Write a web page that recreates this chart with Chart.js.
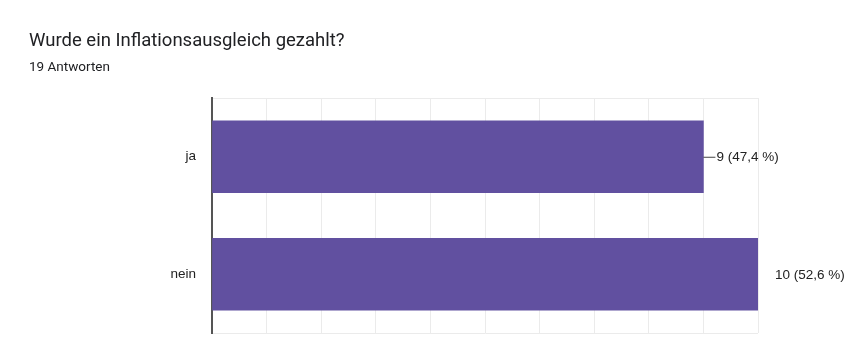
<!DOCTYPE html>
<html>
<head>
<meta charset="utf-8">
<script src="https://cdn.jsdelivr.net/npm/chart.js@4/dist/chart.umd.min.js"></script>
<style>
  body { margin: 0; background: #fff; }
  #wrap { position: relative; width: 845px; height: 341px; }
  #title { position: absolute; left: 29px; top: 29px; font: 18.5px Roboto, sans-serif; color: #202124; }
  #sub { position: absolute; left: 29px; top: 58px; font: 13.5px Roboto, sans-serif; color: #202124; }
  canvas { position: absolute; left: 0; top: 0; }
</style>
</head>
<body>
<div id="wrap">
  <canvas id="chart" width="845" height="341"></canvas>
  <div id="title">Wurde ein Inflationsausgleich gezahlt?</div>
  <div id="sub">19 Antworten</div>
</div>
<script>
const categories = ["ja", "nein"];
const counts = [9, 10];
const percentLabels = ["47,4 %", "52,6 %"];
const xTicks = [0, 1, 2, 3, 4, 5, 6, 7, 8, 9, 10];

const barLabels = {
  id: "barLabels",
  afterDatasetsDraw(chart) {
    const ctx = chart.ctx;
    const area = chart.chartArea;
    const meta = chart.getDatasetMeta(0);
    ctx.save();
    ctx.font = "13.5px Arial, 'Liberation Sans', sans-serif";
    ctx.fillStyle = "#222";
    ctx.textBaseline = "middle";
    meta.data.forEach((bar, i) => {
      const text = counts[i] + " (" + percentLabels[i] + ")";
      let tx;
      if (bar.x >= area.right - 1) {
        tx = area.right + 17;
      } else {
        ctx.strokeStyle = "#444";
        ctx.lineWidth = 1;
        ctx.beginPath();
        ctx.moveTo(bar.x, bar.y + 0.5);
        ctx.lineTo(bar.x + 12, bar.y + 0.5);
        ctx.stroke();
        tx = bar.x + 13;
      }
      ctx.fillText(text, tx, bar.y + 1);
    });
    ctx.restore();
  }
};

new Chart(document.getElementById("chart"), {
  type: "bar",
  data: {
    labels: categories,
    datasets: [{
      data: counts,
      backgroundColor: "#6150a0",
      borderWidth: 0,
      barThickness: 72
    }]
  },
  options: {
    indexAxis: "y",
    responsive: false,
    animation: false,
    layout: { padding: { left: 0, right: 87, top: 98, bottom: 8 } },
    plugins: { legend: { display: false }, tooltip: { enabled: false } },
    scales: {
      x: {
        min: xTicks[0],
        max: xTicks[xTicks.length - 1],
        afterBuildTicks: (s) => { s.ticks = xTicks.map(v => ({ value: v })); },
        ticks: { display: false },
        grid: { color: "#ebebeb", drawTicks: false },
        border: { display: false },
        afterFit: (s) => { s.height = 0; s.paddingLeft = 0; s.paddingRight = 0; }
      },
      y: {
        ticks: { color: "#222", padding: 16, font: { family: "Arial, 'Liberation Sans', sans-serif", size: 13.5 } },
        grid: {
          drawTicks: false,
          color: (c) => c.index === 1 ? "rgba(0,0,0,0)" : "#ebebeb"
        },
        border: { color: "#555", width: 2 },
        afterFit: (s) => { s.width = 212; s.paddingTop = 0; s.paddingBottom = 0; }
      }
    }
  },
  plugins: [barLabels]
});
</script>
</body>
</html>
